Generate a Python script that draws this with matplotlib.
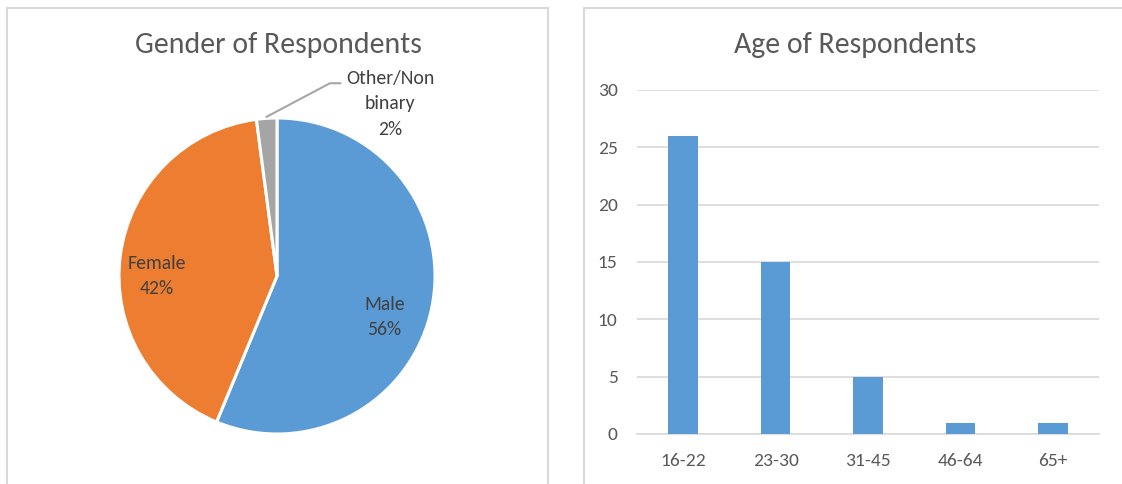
import matplotlib
matplotlib.use("Agg")
import matplotlib.pyplot as plt
from matplotlib.patches import Rectangle
from matplotlib import font_manager
import numpy as np

# ---- data ----
gender_labels = ["Male", "Female", "Other/Non\nbinary"]
gender_counts = [27, 20, 1]
age_groups = ["16-22", "23-30", "31-45", "46-64", "65+"]
age_counts = [26, 15, 5, 1, 1]
age_yticks = [0, 5, 10, 15, 20, 25, 30]

names = {f.name for f in font_manager.fontManager.ttflist}
FONT = "Carlito" if "Carlito" in names else "Lato"
plt.rcParams["font.family"] = [FONT, "DejaVu Sans"]

W, H = 1122, 484
fig = plt.figure(figsize=(W / 100, H / 100), dpi=100)
fig.patch.set_facecolor("white")

def fx(px):
    return px / W

def fy(py):
    return 1 - py / H

BORDER = "#D9D9D9"
TXT = "#595959"
LBL = "#404040"

# panel borders
fig.add_artist(Rectangle((fx(7), fy(500)), fx(548 - 7), (500 - 8) / H,
                         transform=fig.transFigure, fill=False,
                         edgecolor=BORDER, linewidth=1.5))
fig.add_artist(Rectangle((fx(584), fy(500)), fx(1140 - 584), (500 - 8) / H,
                         transform=fig.transFigure, fill=False,
                         edgecolor=BORDER, linewidth=1.5))

# ---- pie ----
cx, cy, r = 277, 276, 158
axp = fig.add_axes([fx(cx - r), fy(cy + r), 2 * r / W, 2 * r / H])
colors = ["#5B9BD5", "#ED7D31", "#A5A5A5"]
wedges, _ = axp.pie(gender_counts, colors=colors, startangle=90, counterclock=False,
                    wedgeprops=dict(edgecolor="white", linewidth=2.2))
axp.set_xlim(-1, 1)
axp.set_ylim(-1, 1)
axp.set_aspect("equal")
axp.axis("off")

total = sum(gender_counts)
pcts = [f"{round(100 * c / total)}%" for c in gender_counts]
fs_lbl = 14.2
LS = 1.6
axp.text(0.68, -0.26, f"{gender_labels[0]}\n{pcts[0]}", ha="center", va="center",
         fontsize=fs_lbl, color=LBL, linespacing=LS)
axp.text(-0.76, 0.0, f"{gender_labels[1]}\n{pcts[1]}", ha="center", va="center",
         fontsize=fs_lbl, color=LBL, linespacing=LS)

# other slice leader
w = wedges[2]
mid = np.deg2rad((w.theta1 + w.theta2) / 2)
x0, y0 = np.cos(mid), np.sin(mid)
axp.plot([x0, 0.335, 0.40], [y0 + 0.01, 1.22, 1.22], color="#A6A6A6", lw=1.5,
         clip_on=False)
axp.text(0.715, 1.09, f"{gender_labels[2]}\n{pcts[2]}", ha="center", va="center",
         fontsize=fs_lbl, color=LBL, linespacing=LS, clip_on=False)

fig.text(fx(278), fy(45), "Gender of Respondents", ha="center", va="center",
         fontsize=21.5, color=TXT)

# ---- bars ----
axb = fig.add_axes([fx(637), fy(434), (1099 - 637) / W, (434 - 90) / H])
x = np.arange(len(age_groups))
axb.bar(x, age_counts, width=0.32, color="#5B9BD5", zorder=3)
axb.set_xlim(-0.5, len(age_groups) - 0.5)
axb.set_ylim(0, 30)
axb.set_yticks(age_yticks)
axb.set_xticks(x)
axb.set_xticklabels(age_groups)
axb.grid(axis="y", color=BORDER, linewidth=1.2, zorder=0)
for s in ["top", "right", "left"]:
    axb.spines[s].set_visible(False)
axb.spines["bottom"].set_color(BORDER)
axb.spines["bottom"].set_linewidth(1.2)
axb.tick_params(axis="both", length=0, labelsize=14, labelcolor=TXT)
axb.tick_params(axis="y", pad=14)
axb.tick_params(axis="x", pad=14)
axb.set_axisbelow(True)

fig.text(fx(855), fy(45), "Age of Respondents", ha="center", va="center",
         fontsize=21.5, color=TXT)

fig.savefig("out.png", dpi=100, facecolor="white")
